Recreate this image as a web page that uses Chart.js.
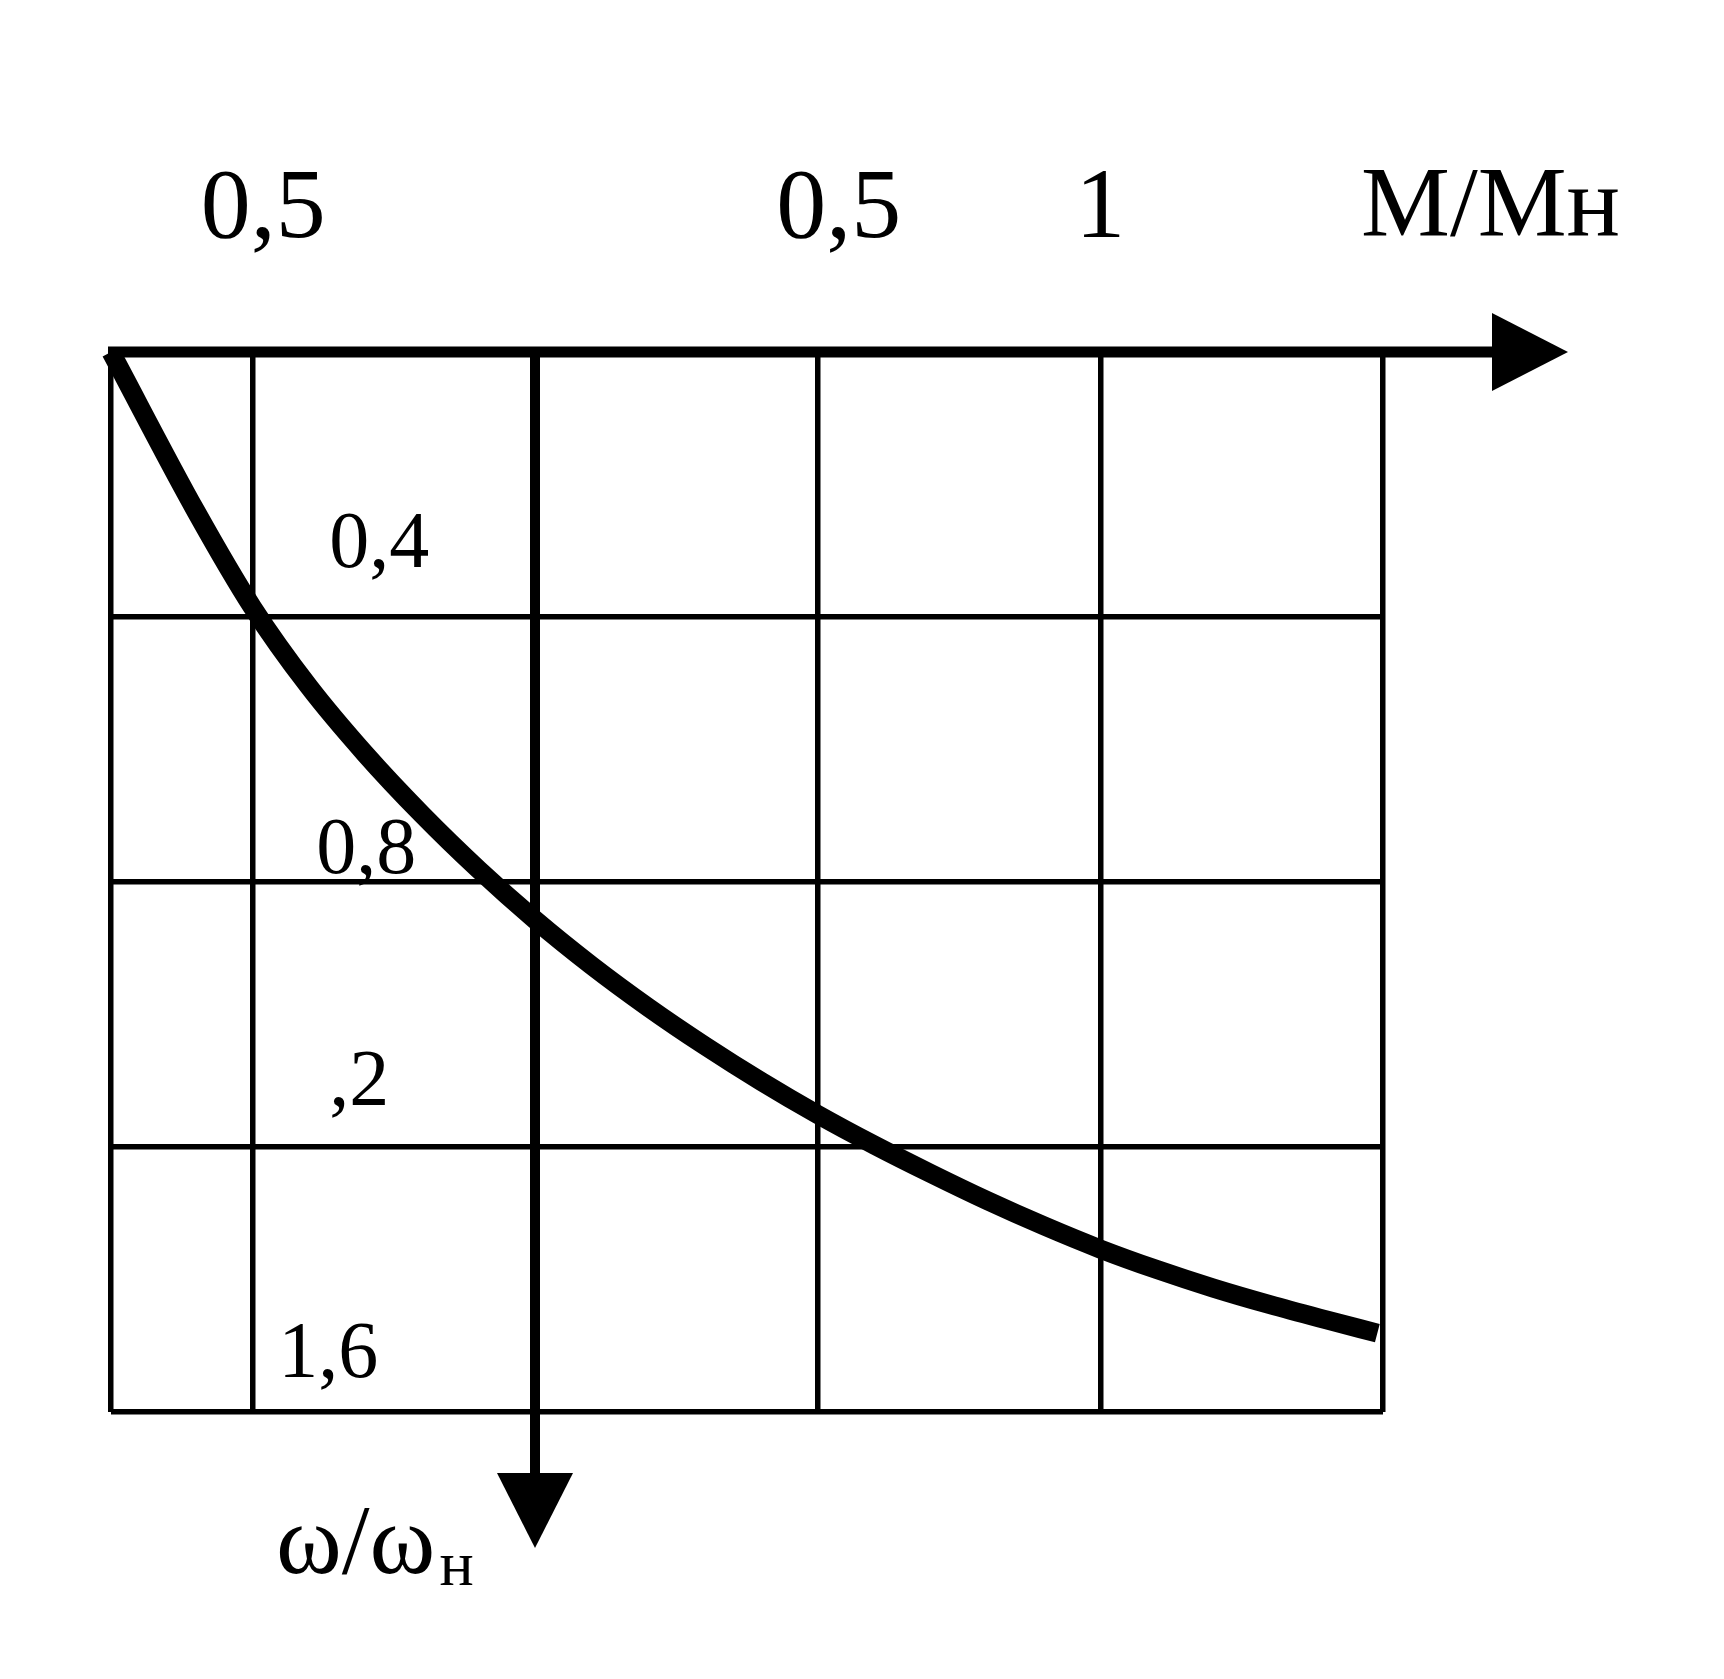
<!DOCTYPE html>
<html>
<head>
<meta charset="utf-8">
<script src="https://cdn.jsdelivr.net/npm/chart.js@4"></script>
<style>
  html, body { margin: 0; padding: 0; background: #ffffff; }
  #wrap { width: 1724px; height: 1679px; position: relative; }
</style>
</head>
<body>
<div id="wrap"><canvas id="c" width="1724" height="1679"></canvas></div>
<script>
// ---- data ----
const torqueRatio = [-0.75, -0.6, -0.5, -0.4, -0.3, -0.2, -0.1, 0, 0.1, 0.2, 0.3, 0.4, 0.5, 0.6, 0.7, 0.8, 0.9, 1.0, 1.1, 1.2, 1.3, 1.4, 1.49]; // M/Mн
const speedRatio  = [0, 0.24, 0.385, 0.505, 0.607, 0.698, 0.781, 0.857, 0.926, 0.989, 1.047, 1.101, 1.151, 1.197, 1.240, 1.281, 1.319, 1.354, 1.385, 1.413, 1.438, 1.461, 1.481]; // ω/ωн
const xGridValues = [-0.75, -0.5, 0, 0.5, 1, 1.5];
const yGridValues = [0, 0.4, 0.8, 1.2, 1.6];
const topTickValues = [-0.5, 0.5, 1];
const topTickLabels = ["0,5", "0,5", "1"];
const innerTickValues = [0.4, 0.8, 1.2, 1.6];
const innerTickLabels = ["0,4", "0,8", ",2", "1,6"];
const xAxisTitle = "M/Mн";
const yAxisTitleMain = "ω/ω";
const yAxisTitleSub = "н";

const points = torqueRatio.map((x, i) => ({ x: x, y: speedRatio[i] }));

const FONT = '"Liberation Serif", "Times New Roman", serif';

const decor = {
  id: 'decor',
  beforeDatasetsDraw(chart) {
    const ctx = chart.ctx;
    const xs = chart.scales.x, ys = chart.scales.y;
    const x0 = xs.getPixelForValue(0);
    const y0 = ys.getPixelForValue(0);
    const left = xs.getPixelForValue(-0.75);
    const right = xs.getPixelForValue(1.5);
    const bottom = ys.getPixelForValue(1.6);
    ctx.save();
    ctx.fillStyle = '#000';
    ctx.strokeStyle = '#000';
    // horizontal axis (M/Mн) with arrow
    ctx.lineWidth = 11;
    ctx.beginPath();
    ctx.moveTo(left - 3, y0);
    ctx.lineTo(right + 112, y0);
    ctx.stroke();
    ctx.beginPath();
    ctx.moveTo(right + 109, y0 - 39);
    ctx.lineTo(right + 185, y0);
    ctx.lineTo(right + 109, y0 + 39);
    ctx.closePath();
    ctx.fill();
    // vertical axis (ω/ωн) with arrow
    ctx.lineWidth = 10;
    ctx.beginPath();
    ctx.moveTo(x0, y0);
    ctx.lineTo(x0, bottom + 64);
    ctx.stroke();
    ctx.beginPath();
    ctx.moveTo(x0 - 38, bottom + 61);
    ctx.lineTo(x0 + 38, bottom + 61);
    ctx.lineTo(x0, bottom + 136);
    ctx.closePath();
    ctx.fill();
    ctx.restore();
  },
  afterDraw(chart) {
    const ctx = chart.ctx;
    const xs = chart.scales.x, ys = chart.scales.y;
    const y0 = ys.getPixelForValue(0);
    ctx.save();
    ctx.fillStyle = '#000';
    ctx.textBaseline = 'alphabetic';
    // top labels
    ctx.font = '100px ' + FONT;
    ctx.textAlign = 'center';
    const topOffsets = [11, 21, 0];
    topTickValues.forEach((v, i) => {
      ctx.fillText(topTickLabels[i], xs.getPixelForValue(v) + topOffsets[i], y0 - 115);
    });
    ctx.textAlign = 'left';
    ctx.fillText(xAxisTitle, xs.getPixelForValue(1.5) - 22, y0 - 117);
    // inner labels along the ω axis
    ctx.font = '80px ' + FONT;
    const xl = xs.getPixelForValue(-0.5);
    const innerDx = [77, 64, 77, 26];
    const innerDy = [50, 9, 42, 35];
    innerTickValues.forEach((v, i) => {
      ctx.fillText(innerTickLabels[i], xl + innerDx[i], ys.getPixelForValue(v) - innerDy[i]);
    });
    // bottom axis title
    const bottom = ys.getPixelForValue(1.6);
    const x0 = xs.getPixelForValue(0);
    ctx.font = '100px ' + FONT;
    const tx = x0 - 259;
    ctx.fillText(yAxisTitleMain, tx, bottom + 161);
    const w = ctx.measureText(yAxisTitleMain).width;
    ctx.font = '64px ' + FONT;
    ctx.fillText(yAxisTitleSub, tx + w + 4, bottom + 173);
    ctx.restore();
  }
};

new Chart(document.getElementById('c'), {
  type: 'scatter',
  data: {
    datasets: [{
      data: points,
      showLine: true,
      borderColor: '#000',
      backgroundColor: '#000',
      borderWidth: 19,
      borderJoinStyle: 'round',
      pointRadius: 0,
      cubicInterpolationMode: 'monotone',
      clip: false
    }]
  },
  options: {
    responsive: false,
    animation: false,
    devicePixelRatio: 1,
    layout: { padding: { left: 111, top: 352, right: 341, bottom: 267 } },
    plugins: { legend: { display: false }, tooltip: { enabled: false } },
    events: [],
    scales: {
      x: {
        type: 'linear',
        min: -0.75,
        max: 1.5,
        afterBuildTicks: s => { s.ticks = xGridValues.map(v => ({ value: v })); },
        ticks: { display: false },
        border: { display: false },
        grid: {
          drawTicks: false,
          color: '#000',
          lineWidth: c => (c.tick && c.tick.value === 0) ? 0 : 5.5
        }
      },
      y: {
        type: 'linear',
        min: 0,
        max: 1.6,
        reverse: true,
        afterBuildTicks: s => { s.ticks = yGridValues.map(v => ({ value: v })); },
        ticks: { display: false },
        border: { display: false },
        grid: {
          drawTicks: false,
          color: '#000',
          lineWidth: c => (c.tick && c.tick.value === 0) ? 0 : 5.5
        }
      }
    }
  },
  plugins: [decor]
});
</script>
</body>
</html>
